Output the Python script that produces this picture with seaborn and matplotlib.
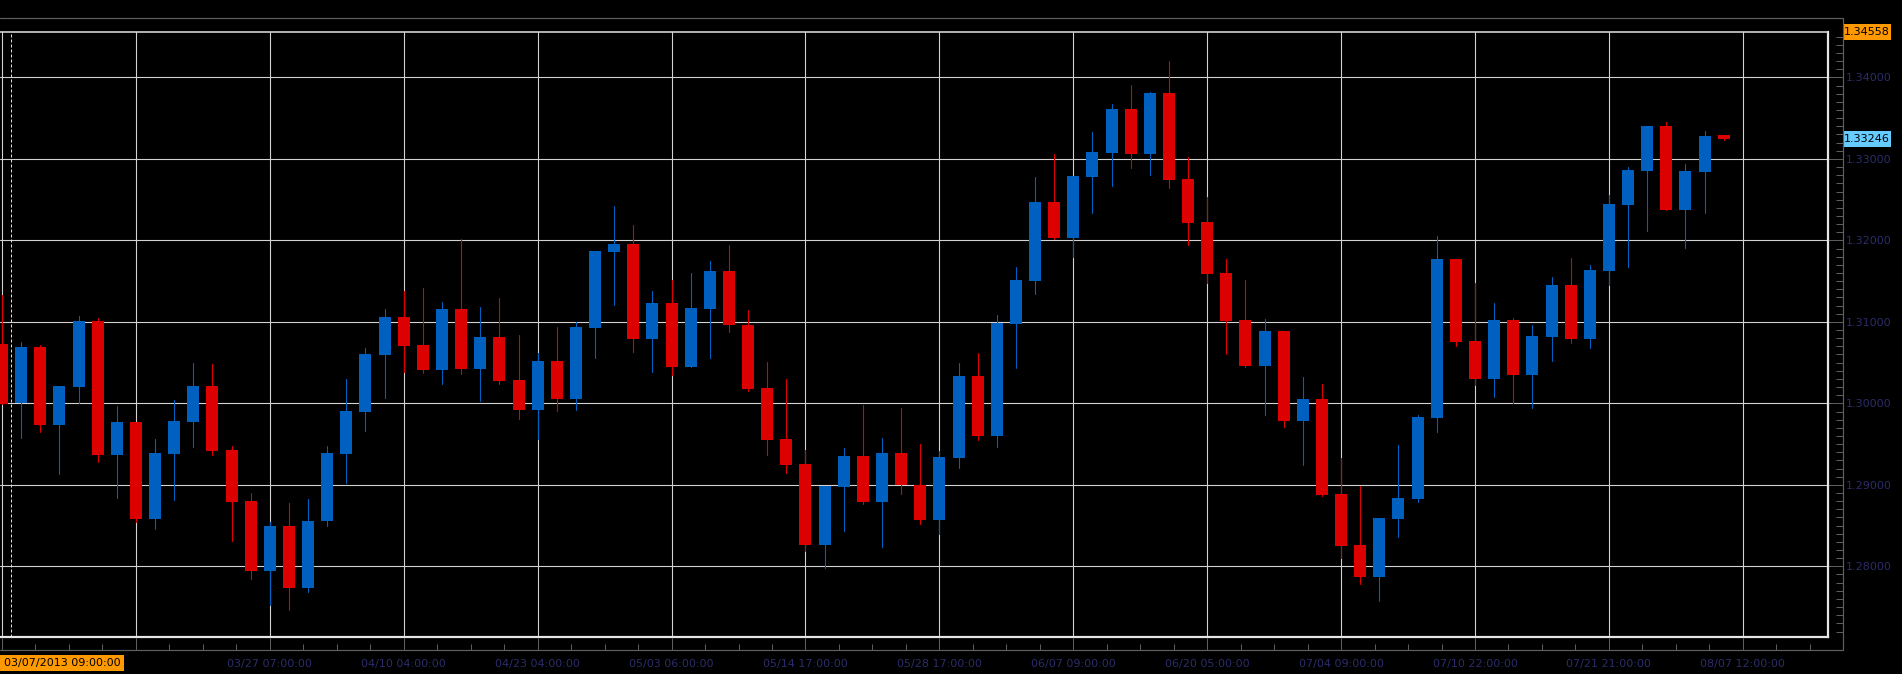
import numpy as np
import pandas as pd
import matplotlib
matplotlib.use("Agg")
import matplotlib.pyplot as plt
from matplotlib.patches import Rectangle
from matplotlib.ticker import MultipleLocator, FixedLocator, FixedFormatter, FormatStrFormatter
import seaborn as sns

# ---------------- data (EURUSD-like candles) ----------------
opens = [1.30728, 1.30000, 1.30690, 1.29734, 1.30202, 1.31010, 1.29366, 1.29768, 1.28578, 1.29380,
         1.29768, 1.30212, 1.29424, 1.28798, 1.27943, 1.28492, 1.27737, 1.28554, 1.29380, 1.29892,
         1.30594, 1.31057, 1.30713, 1.30412, 1.31158, 1.30427, 1.30814, 1.30284, 1.29920, 1.30518,
         1.30054, 1.30924, 1.31855, 1.31955, 1.30790, 1.31229, 1.30446, 1.31158, 1.31626, 1.30967,
         1.30188, 1.29562, 1.29252, 1.28263, 1.28974, 1.29352, 1.28788, 1.29390, 1.28994, 1.28564,
         1.29328, 1.30336, 1.29596, 1.30971, 1.31502, 1.32471, 1.32027, 1.32777, 1.33073, 1.33613,
         1.33059, 1.33809, 1.32753, 1.32223, 1.31597, 1.31024, 1.30455, 1.30885, 1.29782, 1.30049,
         1.28884, 1.28258, 1.27871, 1.28578, 1.28826, 1.29820, 1.31769, 1.30766, 1.30298, 1.31024,
         1.30346, 1.30814, 1.31454, 1.30790, 1.31626, 1.32433, 1.32854, 1.33403, 1.32371, 1.32839,
         1.33290]
highs = [1.31334, 1.30752, 1.30713, 1.30212, 1.31072, 1.31048, 1.29963, 1.29768, 1.29562, 1.30040,
         1.30494, 1.30479, 1.29481, 1.28903, 1.28540, 1.28774, 1.28822, 1.29481, 1.30298, 1.30680,
         1.31158, 1.31377, 1.31416, 1.31244, 1.32013, 1.31182, 1.31291, 1.30838, 1.30618, 1.30938,
         1.30995, 1.31869, 1.32424, 1.32190, 1.31377, 1.31511, 1.31597, 1.31745, 1.31941, 1.31143,
         1.30508, 1.30298, 1.29424, 1.28984, 1.29452, 1.29978, 1.29572, 1.29940, 1.29500, 1.29414,
         1.30494, 1.30618, 1.31081, 1.31674, 1.32777, 1.33059, 1.32791, 1.33331, 1.33675, 1.33909,
         1.33823, 1.34201, 1.33025, 1.32538, 1.31769, 1.31511, 1.31034, 1.30885, 1.30322, 1.30236,
         1.29328, 1.28984, 1.28592, 1.29486, 1.29854, 1.32051, 1.31769, 1.31478, 1.31229, 1.31048,
         1.30962, 1.31549, 1.31783, 1.31697, 1.32557, 1.32901, 1.33403, 1.33455, 1.32939, 1.33341,
         1.33290]
lows = [1.29990, 1.29576, 1.29653, 1.29137, 1.30000, 1.29280, 1.28836, 1.28540, 1.28454, 1.28812,
        1.29462, 1.29366, 1.28311, 1.27847, 1.27527, 1.27465, 1.27680, 1.28492, 1.29022, 1.29662,
        1.30069, 1.30384, 1.30369, 1.30236, 1.30360, 1.30030, 1.30236, 1.29810, 1.29562, 1.29906,
        1.29920, 1.30556, 1.31205, 1.30627, 1.30384, 1.30346, 1.30446, 1.30556, 1.30876, 1.30150,
        1.29371, 1.29147, 1.28191, 1.27981, 1.28430, 1.28764, 1.28234, 1.28884, 1.28516, 1.28392,
        1.29204, 1.29553, 1.29462, 1.30432, 1.31339, 1.32013, 1.31793, 1.32338, 1.32667, 1.32887,
        1.32801, 1.32648, 1.31941, 1.31478, 1.30604, 1.30446, 1.29854, 1.29710, 1.29242, 1.28860,
        1.28100, 1.27785, 1.27575, 1.28358, 1.28788, 1.29648, 1.30704, 1.30221, 1.30078, 1.30000,
        1.29940, 1.30518, 1.30742, 1.30680, 1.31454, 1.31674, 1.32113, 1.32371, 1.31908, 1.32338,
        1.33232]
closes = [1.29997, 1.30690, 1.29734, 1.30212, 1.31010, 1.29366, 1.29768, 1.28578, 1.29390, 1.29782,
          1.30212, 1.29414, 1.28788, 1.27943, 1.28492, 1.27737, 1.28554, 1.29390, 1.29906, 1.30604,
          1.31057, 1.30704, 1.30412, 1.31158, 1.30427, 1.30814, 1.30279, 1.29920, 1.30518, 1.30054,
          1.30938, 1.31869, 1.31955, 1.30790, 1.31229, 1.30446, 1.31167, 1.31626, 1.30967, 1.30174,
          1.29553, 1.29247, 1.28263, 1.28984, 1.29352, 1.28788, 1.29390, 1.28994, 1.28564, 1.29338,
          1.30336, 1.29596, 1.30986, 1.31511, 1.32471, 1.32027, 1.32791, 1.33083, 1.33613, 1.33059,
          1.33809, 1.32744, 1.32218, 1.31588, 1.31014, 1.30455, 1.30885, 1.29782, 1.30049, 1.28874,
          1.28248, 1.27871, 1.28592, 1.28836, 1.29830, 1.31769, 1.30752, 1.30298, 1.31024, 1.30346,
          1.30823, 1.31454, 1.30790, 1.31635, 1.32447, 1.32863, 1.33403, 1.32371, 1.32854, 1.33283,
          1.33246]

time_tick_labels = ["", "", "03/27 07:00:00", "04/10 04:00:00", "04/23 04:00:00", "05/03 06:00:00",
                    "05/14 17:00:00", "05/28 17:00:00", "06/07 09:00:00", "06/20 05:00:00",
                    "07/04 09:00:00", "07/10 22:00:00", "07/21 21:00:00", "08/07 12:00:00"]
price_ticks = [1.28, 1.29, 1.30, 1.31, 1.32, 1.33, 1.34]
start_label = "03/07/2013 09:00:00"
max_price = 1.34558
last_price = 1.33246
min_price = 1.27129

# ---------------- styling ----------------
W, H, DPI = 1902, 674, 100
sns.set_theme(style="dark", rc={"axes.facecolor": "black", "figure.facecolor": "black",
                                "grid.color": "#D2D2D2", "axes.axisbelow": True})
plt.rcParams["font.family"] = ["DejaVu Sans"]

UP, DOWN = "#0060C0", "#DD0000"
GRAY = "#5E5E5E"
NAVY = "#2C2C6A"
ORANGE = "#FF9900"
LIGHTBLUE = "#66CCFF"
FS = 8.0

# pixel layout
PL, PR, PT, PB = 0.0, 1828.0, 32.0, 637.3
AX_R, AX_B, AX_T = 1843.0, 650.0, 18.0
SPACING, X0PX = 19.13, 2.0
xmin = (PL - X0PX) / SPACING
xmax = (PR - X0PX) / SPACING
ymin, ymax = min_price, max_price
px = 72.0 / DPI  # points per pixel

fig = plt.figure(figsize=(W / DPI, H / DPI), dpi=DPI, facecolor="black")


def rect(l, t, r, b):
    return [l / W, 1 - b / H, (r - l) / W, (b - t) / H]


# bottom time axis
axb = fig.add_axes(rect(PL, PT, PR, AX_B), facecolor="none", zorder=0)
axb.set_xlim(xmin, xmax)
axb.set_yticks([])
for s in axb.spines.values():
    s.set_visible(False)
axb.xaxis.set_major_locator(FixedLocator(list(range(0, 92, 7))))
axb.xaxis.set_major_formatter(FixedFormatter(time_tick_labels))
axb.xaxis.set_minor_locator(MultipleLocator(1.75))
axb.tick_params(axis="x", which="major", direction="in", length=12 * px, width=1 * px,
                color=GRAY, labelcolor=NAVY, labelsize=FS, pad=8.5 * px, bottom=True)
axb.tick_params(axis="x", which="minor", direction="in", length=6 * px, width=1 * px,
                color=GRAY, bottom=True)
axb.grid(False)

# right price axis
axr = fig.add_axes(rect(PL, PT, AX_R, PB), facecolor="none", zorder=0)
axr.set_ylim(ymin, ymax)
axr.set_xticks([])
for s in axr.spines.values():
    s.set_visible(False)
axr.yaxis.tick_right()
axr.yaxis.set_major_locator(FixedLocator(price_ticks))
axr.yaxis.set_major_formatter(FormatStrFormatter("%.5f"))
axr.yaxis.set_minor_locator(MultipleLocator(0.001))
axr.tick_params(axis="y", which="major", direction="in", length=15 * px, width=1 * px,
                color=GRAY, labelcolor=NAVY, labelsize=FS, pad=3 * px, right=True, left=False)
axr.tick_params(axis="y", which="minor", direction="in", length=7 * px, width=1 * px,
                color=GRAY, right=True, left=False)
axr.grid(False)

# main chart
ax = fig.add_axes(rect(PL, PT, PR, PB), zorder=1)
ax.set_facecolor("black")

n = len(opens)
idx = np.arange(n)
o = np.array(opens); c = np.array(closes)
direction = np.where(c >= o, "up", "down")
palette = {"up": UP, "down": DOWN}

wick_df = pd.DataFrame({"candle": np.repeat(idx, 2),
                        "price": np.column_stack([lows, highs]).ravel(),
                        "dir": np.repeat(direction, 2)})
body_df = pd.DataFrame({"candle": np.repeat(idx, 2),
                        "price": np.column_stack([opens, closes]).ravel(),
                        "dir": np.repeat(direction, 2)})

sns.lineplot(data=wick_df, x="candle", y="price", units="candle", hue="dir", palette=palette,
             estimator=None, sort=False, lw=1.1 * px, legend=False, ax=ax)
sns.lineplot(data=body_df, x="candle", y="price", units="candle", hue="dir", palette=palette,
             estimator=None, sort=False, lw=12 * px, solid_capstyle="butt", legend=False, ax=ax)

ax.set_xlim(xmin, xmax)
ax.set_ylim(ymin, ymax)
ax.set_xlabel("")
ax.set_ylabel("")
ax.xaxis.set_major_locator(MultipleLocator(7))
ax.yaxis.set_major_locator(FixedLocator(price_ticks))
ax.grid(True, which="major", color="#D2D2D2", lw=1.1 * px)
ax.tick_params(length=0, labelbottom=False, labelleft=False)
ax.spines["left"].set_visible(False)
ax.spines["top"].set_color("#D8D8D8")
ax.spines["top"].set_linewidth(1.6 * px)
ax.spines["top"].set_linestyle((0, (2, 1)))
for side in ("right", "bottom"):
    ax.spines[side].set_color("#E6E6E6")
    ax.spines[side].set_linewidth(2.2 * px)
ax.axvline(0.49, color="#E0E0E0", lw=1 * px, ls=(0, (3, 2)))

# overlay for frame lines and highlighted labels (pixel coordinates)
ov = fig.add_axes([0, 0, 1, 1], facecolor="none", zorder=5)
ov.set_xlim(0, W)
ov.set_ylim(H, 0)
ov.axis("off")
ov.plot([0, AX_R], [AX_T, AX_T], color=GRAY, lw=1.2 * px)
ov.plot([AX_R, AX_R], [AX_T, AX_B], color=GRAY, lw=1.2 * px)
ov.plot([0, AX_R], [AX_B, AX_B], color=GRAY, lw=1.2 * px)


def price_y(p):
    return PT + (ymax - p) / (ymax - ymin) * (PB - PT)


for p, col in ((max_price, ORANGE), (last_price, LIGHTBLUE)):
    yy = price_y(p)
    ov.add_patch(Rectangle((AX_R, yy - 8), 48, 16, facecolor=col, edgecolor="none"))
    ov.text(AX_R + 24, yy, f"{p:.5f}", ha="center", va="center", color="black", fontsize=FS)

ov.add_patch(Rectangle((0, 655), 124, 16, facecolor=ORANGE, edgecolor="none"))
ov.text(62, 663, start_label, ha="center", va="center", color="black", fontsize=FS)

fig.savefig("out.png", dpi=DPI, facecolor="black")
